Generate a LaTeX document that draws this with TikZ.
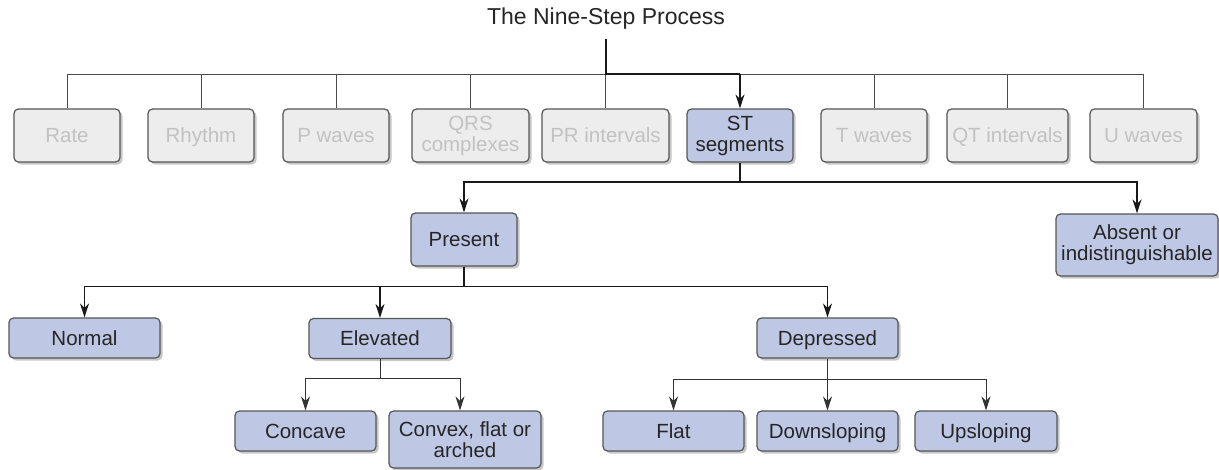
\documentclass[tikz,border=0pt]{standalone}
\usepackage{fontspec}
\setmainfont{Liberation Sans}
\usetikzlibrary{arrows.meta,shadows}
\definecolor{bluefill}{HTML}{BEC8E4}
\definecolor{grayfill}{HTML}{EDEDED}
\definecolor{graytext}{HTML}{C2C2C2}
\definecolor{boxline}{HTML}{555555}
\definecolor{barline}{HTML}{4A4A4A}
\tikzset{
  basebox/.style={rectangle, rounded corners=4.5pt, draw=boxline, line width=1.2pt,
    align=center, inner sep=0pt, font=\fontsize{20.5}{21}\selectfont,
    drop shadow={shadow xshift=2.5pt, shadow yshift=-2.5pt, fill=black!22, opacity=1}},
  oneline/.style={text height=14.7pt, text depth=0pt},
  greybox/.style={basebox, fill=grayfill, text=graytext},
  bluebox/.style={basebox, fill=bluefill, text=black!85},
  grayconn/.style={draw=barline, line width=1pt},
  thickconn/.style={draw=black!90, line width=1.8pt},
  tip/.style={-{Stealth[length=14pt,width=9pt,inset=4.5pt]}},
  arrconn/.style={draw=black!90, line width=1.3pt, tip},
  plainconn/.style={draw=black!90, line width=1.3pt},
  thinarr/.style={draw=black!80, line width=1pt, tip},
  thinconn/.style={draw=black!80, line width=1pt},
}
\begin{document}
\begin{tikzpicture}[x=1pt,y=-1pt]
\useasboundingbox (0,0) rectangle (1219,469);
% title
\node[font=\fontsize{23}{25}\selectfont, text=black!85, minimum height=40pt, inner sep=0pt] (title) at (606,19) {The Nine-Step Process};
% top row
\node[greybox, oneline, minimum width=106pt, minimum height=53pt] (rate) at (67,135.5) {Rate};
\node[greybox, oneline, minimum width=106pt, minimum height=53pt] (rhythm) at (201,135.5) {Rhythm};
\node[greybox, oneline, minimum width=106pt, minimum height=53pt] (pw) at (336,135.5) {P waves};
\node[greybox, minimum width=117pt, minimum height=53pt] (qrs) at (470.5,135.5) {QRS\\complexes};
\node[greybox, oneline, minimum width=127pt, minimum height=53pt] (pr) at (605.5,135.5) {PR intervals};
\node[bluebox, minimum width=106pt, minimum height=53pt] (st) at (740,135.5) {ST\\segments};
\node[greybox, oneline, minimum width=106pt, minimum height=53pt] (tw) at (874,135.5) {T waves};
\node[greybox, oneline, minimum width=121pt, minimum height=53pt] (qt) at (1007.5,135.5) {QT intervals};
\node[greybox, oneline, minimum width=107pt, minimum height=53pt] (uw) at (1143.5,135.5) {U waves};
% second level
\node[bluebox, oneline, minimum width=106pt, minimum height=53pt] (present) at (464,239.5) {Present};
\node[bluebox, minimum width=162pt, minimum height=62pt] (absent) at (1137,245) {Absent or\\indistinguishable};
% third level
\node[bluebox, oneline, minimum width=151pt, minimum height=40pt] (normal) at (84.5,338) {Normal};
\node[bluebox, oneline, minimum width=142pt, minimum height=40pt] (elevated) at (380,338.5) {Elevated};
\node[bluebox, oneline, minimum width=141pt, minimum height=40pt] (depressed) at (827.5,338) {Depressed};
% fourth level
\node[bluebox, oneline, minimum width=141pt, minimum height=40pt] (concave) at (305.5,431) {Concave};
\node[bluebox, minimum width=152pt, minimum height=57pt] (convex) at (465,439.5) {Convex, flat or\\arched};
\node[bluebox, oneline, minimum width=141pt, minimum height=40pt] (flat) at (673.5,431) {Flat};
\node[bluebox, oneline, minimum width=141pt, minimum height=40pt] (down) at (827.5,431) {Downsloping};
\node[bluebox, oneline, minimum width=142pt, minimum height=40pt] (up) at (986,431) {Upsloping};
% junction coordinates
\coordinate (j0) at (606,74);
\coordinate (j1) at (740,182);
\coordinate (j2) at (464,286.5);
\coordinate (j3) at (380,378.5);
\coordinate (j4) at (827.5,379);
% top grey bar
\draw[grayconn] (rate.north) -- (rate.north |- j0) -- (uw.north |- j0) -- (uw.north);
\foreach \n in {rhythm,pw,qrs,pr,tw,qt}{
  \draw[grayconn] (\n.north) -- (\n.north |- j0);
}
% highlighted path
\draw[thickconn] (title.south) -- (j0) -- (st.north |- j0);
\draw[arrconn, line width=1.6pt] (st.north |- j0) -- (st.north);
% ST branches
\draw[plainconn] (st.south) -- (j1);
\draw[arrconn] (j1) -| (present.north);
\draw[arrconn] (j1) -| (absent.north);
% Present branches
\draw[plainconn] (present.south) -- (j2);
\draw[arrconn] (j2) -| (normal.north);
\draw[arrconn] (j2) -| (elevated.north);
\draw[arrconn] (j2) -| (depressed.north);
% Elevated branches
\draw[thinconn] (elevated.south) -- (j3);
\draw[thinarr] (j3) -| (concave.north);
\draw[thinarr] (j3) -| ([xshift=-5pt]convex.north);
% Depressed branches
\draw[thinconn] (depressed.south) -- (j4);
\draw[thinarr] (j4) -| (flat.north);
\draw[thinarr] (j4) -- (down.north);
\draw[thinarr] (j4) -| (up.north);
\end{tikzpicture}
\end{document}
